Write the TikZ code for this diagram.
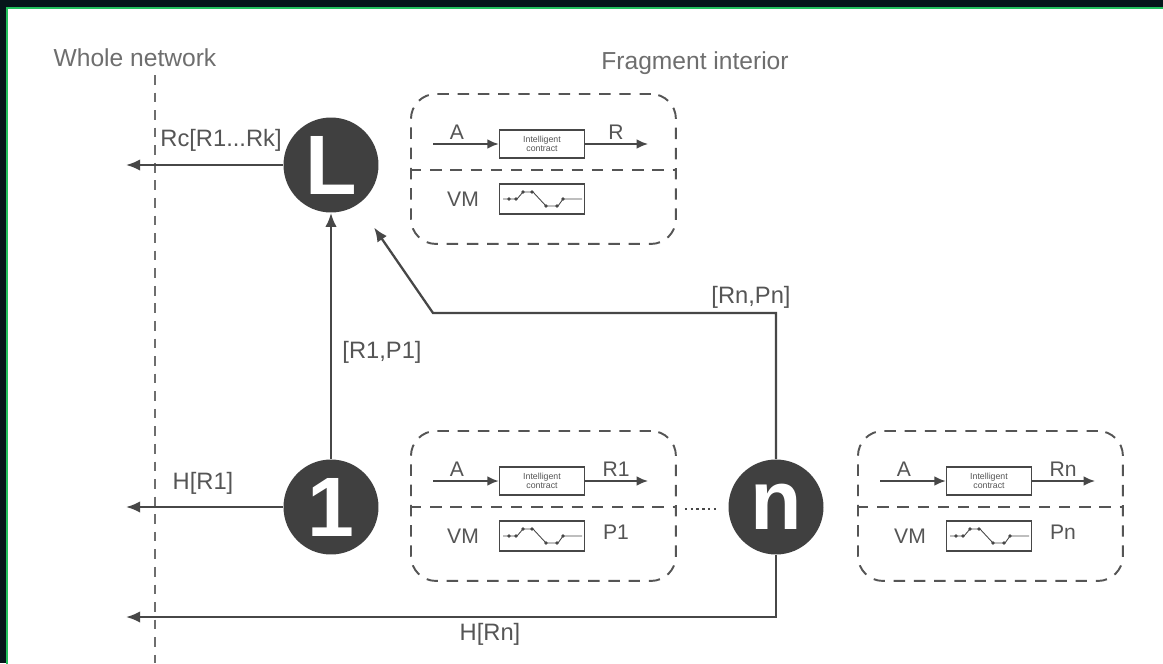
\documentclass[tikz,border=0pt]{standalone}
\usepackage{fontspec}
\setmainfont{Liberation Sans}
\usetikzlibrary{arrows.meta,positioning}

\definecolor{ink}{HTML}{474747}
\definecolor{txt}{HTML}{555555}
\definecolor{frame}{HTML}{22C25E}
\definecolor{night}{HTML}{06151A}

\tikzset{
  lbl/.style={text=txt, font=\fontsize{13.5}{15}\selectfont, inner sep=0pt},
  inlbl/.style={text=txt, font=\fontsize{12}{13}\selectfont, inner sep=0pt},
  peer/.style={circle, fill=ink!90!black, text=white, minimum size=1.9cm,
    inner sep=0pt, font=\fontsize{48}{48}\selectfont\bfseries},
  frag/.style={draw=txt, line width=1.1pt, dash pattern=on 6.5pt off 5pt,
    rounded corners=0.5cm, minimum width=5.3cm, minimum height=3cm, inner sep=0pt},
  cbox/.style={draw=ink, line width=0.9pt, minimum width=1.7cm, minimum height=0.57cm,
    inner sep=0pt, align=center, text=txt, font=\fontsize{5}{5.5}\selectfont},
  wire/.style={draw=ink, line width=1.3pt},
  thinwire/.style={draw=ink, line width=1pt}
}

\begin{document}
\begin{tikzpicture}[x=0.02cm, y=-0.02cm, >={Latex[length=8pt,width=6.5pt]}]
\useasboundingbox (0,0) rectangle (1163,663);
% backdrop
\fill[night] (0,0) rectangle (1163,663);
\fill[white, draw=frame, line width=1.2pt] (7,8) rectangle (1170,670);

\node[text=txt!85, font=\fontsize{14}{16}\selectfont] (whole) at (135,58) {Whole network};
\node[text=txt!85, font=\fontsize{14}{16}\selectfont] (inside) at (695,63) {Fragment interior};
\draw[txt!85, line width=1pt, dash pattern=on 5.5pt off 4.5pt] (155,75) -- (155,663);

% peers
\node[peer] (L) at (331,165) {L};
\node[peer] (one) at (331,507) {1};
\node[peer] (n) at (776,507) {n};
\coordinate (edge) at (126,0);
\coordinate (bend) at (433,313);
\coordinate (low) at (126,617);

% fragments
\foreach \x/\y/\r/\p/\nm in {410/93/R//top, 410/430/R1/P1/first, 857/430/Rn/Pn/last}{
  \node[frag, anchor=north west] (F\nm) at (\x,\y) {};
  \begin{scope}[shift={(\x,\y)}]
    \draw[txt, line width=1.1pt, dash pattern=on 6.5pt off 5pt] (0,77) -- (265,77);
    \node[cbox] (C\nm) at (132,51) {Intelligent\\contract};
    \draw[thinwire, -{Latex[length=6.5pt,width=5.5pt]}] (23,51) -- (C\nm.west);
    \draw[thinwire, -{Latex[length=6.5pt,width=5.5pt]}] (C\nm.east) -- (238,51);
    \node[inlbl] (a\nm) at (47,39) {A};
    \node[inlbl] (r\nm) at (206,39) {\r};
    \node[inlbl] (vm\nm) at (53,106) {VM};
    \node[inlbl] (p\nm) at (206,102) {\p};
    \node[cbox, minimum height=0.6cm] (G\nm) at (132,106) {};
    \draw[ink, line width=0.5pt] (93,106) -- (107,106) -- (113,99) -- (123,99)
      -- (136,113) -- (148,113) -- (153,106) -- (172,106);
    \foreach \u/\v in {99/106,106/106,113/99,122/99,136/113,147/113,153/106}
      \fill[ink] (\u,\v) circle (1.1pt);
  \end{scope}
}

% connectors
\draw[wire, ->] (L.west) -- (L -| edge);
\draw[wire, ->] (one.west) -- (one -| edge);
\draw[wire, ->] (one.north) -- (L.south);
\draw[wire, ->, shorten >=16pt] (n.north) |- (bend) -- (L);
\draw[wire, ->] (n.south) |- (low);
\draw[ink, line width=1.3pt, dotted] (Ffirst.east) ++(8,3) -- ++(32,0);

% labels
\node[lbl] (rc) at (221,140) {Rc[R1...Rk]};
\node[lbl] (h1) at (203,483) {H[R1]};
\node[lbl] (rp1) at (382,352) {[R1,P1]};
\node[lbl] (rpn) at (751,297) {[Rn,Pn]};
\node[lbl] (hn) at (490,634) {H[Rn]};
\end{tikzpicture}
\end{document}
